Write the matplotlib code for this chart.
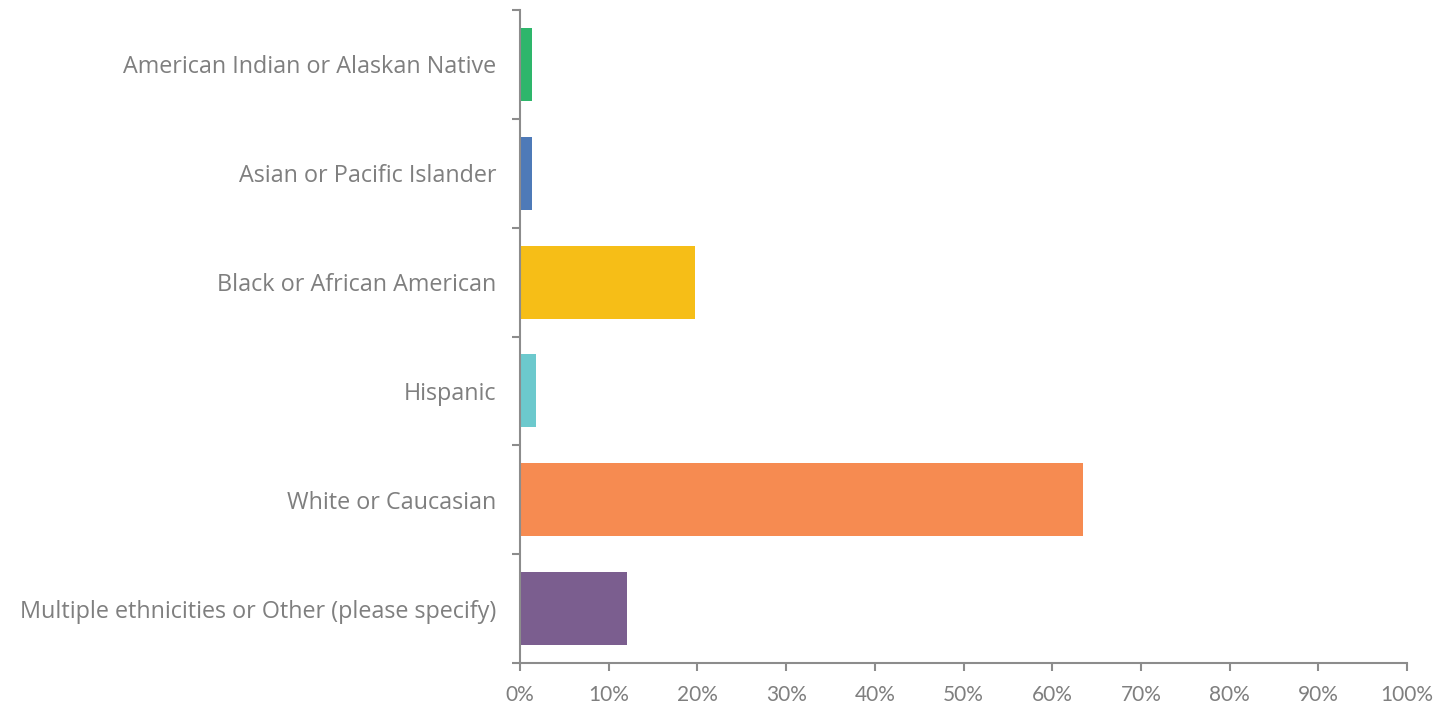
import numpy as np
import matplotlib.pyplot as plt
from matplotlib.ticker import PercentFormatter, FixedLocator

# Data
categories = ['American Indian or Alaskan Native', 'Asian or Pacific Islander',
              'Black or African American', 'Hispanic', 'White or Caucasian',
              'Multiple ethnicities or Other (please specify)']
shares = [1.35, 1.35, 19.7, 1.8, 63.5, 12.1]
bar_colors = ['#2EB66B', '#4E7AB8', '#F6BE17', '#6CC9CD', '#F68B51', '#7B5E8F']
x_ticks = [0, 10, 20, 30, 40, 50, 60, 70, 80, 90, 100]

plt.rcParams['font.family'] = ['Lato', 'DejaVu Sans']
grey = '#7F7F7F'
axis_grey = '#8C8C8C'

fig = plt.figure(figsize=(14.45, 7.16), dpi=100)
ax = fig.add_axes([520 / 1445, 1 - 663 / 716, 887 / 1445, 653 / 716])

y = np.arange(len(categories))
ax.barh(y, shares, height=0.67, color=bar_colors)

ax.set_ylim(len(categories) - 0.5, -0.5)
ax.set_xlim(0, 100)

# category labels in the middle, tick marks on the boundaries (Excel style)
ax.set_yticks(y)
ax.set_yticklabels(categories, fontsize=16.8, color=grey, family=['Open Sans', 'DejaVu Sans'])
ax.tick_params(axis='y', which='major', length=0, pad=17)
ax.yaxis.set_minor_locator(FixedLocator(np.arange(-0.5, len(categories), 1)))
ax.tick_params(axis='y', which='minor', length=6, width=1.5, color=axis_grey)

ax.set_xticks(x_ticks)
ax.xaxis.set_major_formatter(PercentFormatter(decimals=0))
ax.tick_params(axis='x', length=6, width=1.5, color=axis_grey,
               labelsize=15, labelcolor=grey, pad=10)

for side in ['top', 'right']:
    ax.spines[side].set_visible(False)
for side in ['left', 'bottom']:
    ax.spines[side].set_color(axis_grey)
    ax.spines[side].set_linewidth(1.5)

fig.savefig('out.png', dpi=100)
